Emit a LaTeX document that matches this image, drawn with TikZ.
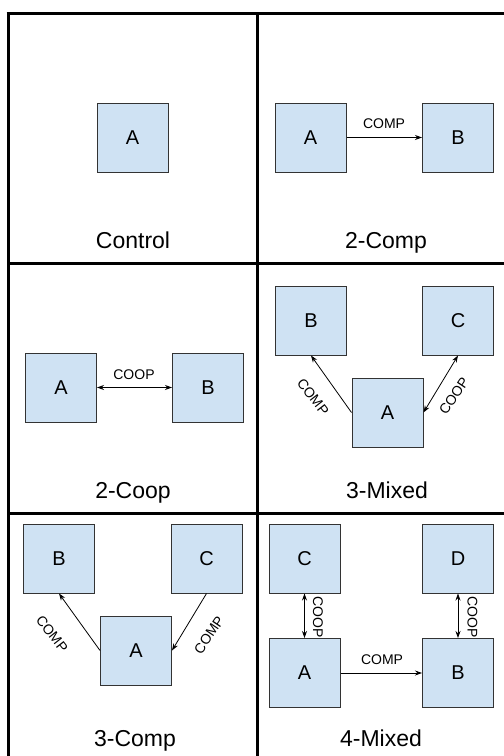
\documentclass[tikz,border=0pt]{standalone}
\usepackage{fontspec}
\setmainfont{Liberation Sans}
\usetikzlibrary{arrows.meta}
\definecolor{boxfill}{HTML}{CFE2F3}
\definecolor{boxline}{HTML}{333333}
\begin{document}
\begin{tikzpicture}[x=1pt,y=-1pt,
  agent/.style={draw=boxline, line width=1pt, fill=boxfill, minimum width=71pt, minimum height=69pt, inner sep=0pt, font=\fontsize{20}{24}\selectfont},
  title/.style={font=\fontsize{23}{27}\selectfont, inner sep=0pt, anchor=base},
  rel/.style={font=\fontsize{14}{16}\selectfont, inner sep=0pt},
  tip/.tip={Stealth[length=7pt,width=5pt]},
  link/.style={line width=0.8pt, -tip},
  both/.style={line width=0.8pt, tip-tip},
  frame/.style={line width=3pt}]
\useasboundingbox (0,0) rectangle (504,756);
% frame
\coordinate (tl) at (6.5,13);
\coordinate (tr) at (504,13);
\coordinate (l0) at (8,13);
\coordinate (lb) at (8,756);
\coordinate (m0) at (257,13);
\coordinate (mb) at (257,756);
\coordinate (h1l) at (8,263);
\coordinate (h1r) at (504,263);
\coordinate (h2l) at (8,513);
\coordinate (h2r) at (504,513);
\draw[frame] (tl) -- (tr);
\draw[frame] (l0) -- (lb);
\draw[frame] (m0) -- (mb);
\draw[frame] (h1l) -- (h1r);
\draw[frame] (h2l) -- (h2r);

% Control
\node[agent] (cA) at (132.5,137.5) {A};
\node[title] (tCtrl) at (133,248) {Control};

% 2-Comp
\node[agent] (c2A) at (310.5,137.5) {A};
\node[agent] (c2B) at (458,137.5) {B};
\draw[link] (c2A) -- (c2B);
\node[rel, anchor=base] (c2l) at (384,128) {COMP};
\node[title] (t2Comp) at (386,248) {2-Comp};

% 2-Coop
\node[agent] (o2A) at (61,387.5) {A};
\node[agent] (o2B) at (208,387.5) {B};
\draw[both] (o2A) -- (o2B);
\node[rel, anchor=base] (o2l) at (134,379) {COOP};
\node[title] (t2Coop) at (133,498) {2-Coop};

% 3-Mixed
\node[agent] (m3B) at (311,320.5) {B};
\node[agent] (m3C) at (458,320.5) {C};
\node[agent] (m3A) at (387.5,412.5) {A};
\draw[link] (m3A.west) -- (m3B.south);
\draw[both] (m3C.south) -- (m3A.east);
\node[rel, rotate=-52] (m3l1) at (313,397) {COMP};
\node[rel, rotate=56] (m3l2) at (454,396) {COOP};
\node[title] (t3Mixed) at (387,498) {3-Mixed};

% 3-Comp
\node[agent] (p3B) at (59,558.5) {B};
\node[agent] (p3C) at (206.5,558.5) {C};
\node[agent] (p3A) at (136,650.5) {A};
\draw[link] (p3A.west) -- (p3B.south);
\draw[link] (p3C.south) -- (p3A.east);
\node[rel, rotate=-52] (p3l1) at (52,634) {COMP};
\node[rel, rotate=56] (p3l2) at (209,635) {COMP};
\node[title] (t3Comp) at (135,746) {3-Comp};

% 4-Mixed
\node[agent] (q4C) at (304.5,558.5) {C};
\node[agent] (q4D) at (458,558.5) {D};
\node[agent] (q4A) at (304.5,673) {A};
\node[agent] (q4B) at (458,673) {B};
\draw[both] (q4C) -- (q4A);
\draw[both] (q4D) -- (q4B);
\draw[link] (q4A) -- (q4B);
\node[rel, rotate=-90] (q4l1) at (318,617) {COOP};
\node[rel, rotate=-90] (q4l2) at (472.5,617) {COOP};
\node[rel, anchor=base] (q4l3) at (382,664) {COMP};
\node[title] (t4Mixed) at (381,746) {4-Mixed};
\end{tikzpicture}
\end{document}
